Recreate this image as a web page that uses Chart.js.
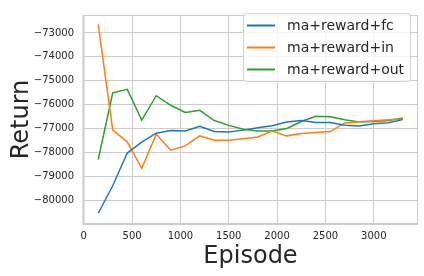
<!DOCTYPE html>
<html>
<head>
<meta charset="utf-8">
<script src="https://cdn.jsdelivr.net/npm/chart.js@4.4.1/dist/chart.umd.min.js"></script>
<style>
  html, body { margin: 0; padding: 0; background: #fff; }
  #wrap { width: 424px; height: 276px; }
</style>
</head>
<body>
<div id="wrap"><canvas id="returnChart" width="424" height="276"></canvas></div>
<script>
// Episodes (x values)
const episodes = [150, 300, 450, 600, 750, 900, 1050, 1200, 1350, 1500, 1650,
                  1800, 1950, 2100, 2250, 2400, 2550, 2700, 2850, 3000, 3150, 3300];

// Return per run
const fcReturn = [-80550, -79400, -78030, -77570, -77200, -77090, -77110, -76910, -77130, -77150, -77070,
                  -76970, -76890, -76730, -76670, -76750, -76750, -76870, -76900, -76800, -76760, -76630];
const inReturn = [-72640, -77070, -77560, -78670, -77240, -77910, -77730, -77310, -77490, -77490, -77430,
                  -77360, -77110, -77310, -77210, -77170, -77130, -76770, -76720, -76680, -76640, -76600];
const outReturn = [-78300, -75510, -75360, -76650, -75630, -76030, -76330, -76240, -76670, -76870, -77030,
                   -77110, -77110, -77000, -76710, -76490, -76510, -76640, -76730, -76710, -76670, -76560];

const seriesLabels = ['ma+reward+fc', 'ma+reward+in', 'ma+reward+out'];
const xTicks = [0, 500, 1000, 1500, 2000, 2500, 3000];
const yTicks = [-80000, -79000, -78000, -77000, -76000, -75000, -74000, -73000];

const toPoints = vals => vals.map((v, i) => ({ x: episodes[i], y: v }));

// frame around plot area (matplotlib spines)
const framePlugin = {
    id: 'frame',
    beforeDatasetsDraw(chart) {
        const { ctx, chartArea: a } = chart;
        ctx.save();
        ctx.strokeStyle = '#cccccc';
        ctx.lineWidth = 1;
        ctx.strokeRect(a.left + 0.5, a.top + 0.5, a.right - a.left - 1, a.bottom - a.top - 1);
        ctx.lineWidth = 2;
        ctx.beginPath();
        ctx.moveTo(a.left + 0.5, a.top);
        ctx.lineTo(a.left + 0.5, a.bottom);
        ctx.lineTo(a.right, a.bottom);
        ctx.stroke();
        ctx.restore();
    }
};

// legend box in upper right, like matplotlib
const boxLegend = {
    id: 'boxLegend',
    afterDraw(chart) {
        const { ctx } = chart;
        const x0 = 243, y0 = 13, w = 167, h = 68;
        ctx.save();
        ctx.fillStyle = 'rgba(255,255,255,0.8)';
        ctx.strokeStyle = 'rgba(204,204,204,0.9)';
        ctx.lineWidth = 1;
        ctx.beginPath();
        ctx.roundRect(x0 + 0.5, y0 + 0.5, w, h, 3);
        ctx.fill();
        ctx.stroke();
        ctx.font = '14px "DejaVu Sans"';
        ctx.textBaseline = 'middle';
        chart.data.datasets.forEach((ds, i) => {
            const y = y0 + 12 + i * 22;
            ctx.strokeStyle = ds.borderColor;
            ctx.lineWidth = 2;
            ctx.beginPath();
            ctx.moveTo(247, y + 0.5);
            ctx.lineTo(275, y + 0.5);
            ctx.stroke();
            ctx.fillStyle = '#262626';
            ctx.fillText(ds.label, 287, y + 1);
        });
        ctx.restore();
    }
};

const ctx = document.getElementById('returnChart').getContext('2d');
const returnChart = new Chart(ctx, {
    type: 'line',
    data: {
        datasets: [
            { label: seriesLabels[0], data: toPoints(fcReturn), borderColor: '#1f77b4' },
            { label: seriesLabels[1], data: toPoints(inReturn), borderColor: '#ff7f0e' },
            { label: seriesLabels[2], data: toPoints(outReturn), borderColor: '#2ca02c' }
        ]
    },
    options: {
        responsive: false,
        animation: false,
        devicePixelRatio: 1,
        layout: { padding: { top: 6, right: 6, left: 0, bottom: 0 } },
        elements: {
            line: { borderWidth: 1.5, tension: 0, fill: false },
            point: { radius: 0 }
        },
        plugins: {
            legend: { display: false },
            tooltip: { enabled: false }
        },
        scales: {
            x: {
                type: 'linear',
                min: -7.5,
                max: 3457.5,
                afterBuildTicks: scale => { scale.ticks = xTicks.map(v => ({ value: v })); },
                afterFit: scale => { scale.height = 52; },
                grid: { color: '#cccccc', drawTicks: false },
                border: { display: false },
                ticks: {
                    padding: 6,
                    color: '#262626',
                    font: { family: 'DejaVu Sans', size: 10 },
                    maxRotation: 0,
                    callback: v => String(v)
                },
                title: {
                    display: true,
                    text: 'Episode',
                    color: '#262626',
                    font: { family: 'DejaVu Sans', size: 24 },
                    padding: { top: 0, bottom: 5 }
                }
            },
            y: {
                min: -81000,
                max: -72250,
                afterBuildTicks: scale => { scale.ticks = yTicks.map(v => ({ value: v })); },
                afterFit: scale => { scale.width = 83; },
                grid: { color: '#cccccc', drawTicks: false },
                border: { display: false },
                ticks: {
                    padding: 9,
                    color: '#262626',
                    font: { family: 'DejaVu Sans', size: 10 },
                    callback: v => (v < 0 ? '\u2212' : '') + Math.abs(v)
                },
                title: {
                    display: true,
                    text: 'Return',
                    color: '#262626',
                    font: { family: 'DejaVu Sans', size: 24 },
                    padding: { top: 7, bottom: 0 }
                }
            }
        }
    },
    plugins: [framePlugin, boxLegend]
});
</script>
</body>
</html>
